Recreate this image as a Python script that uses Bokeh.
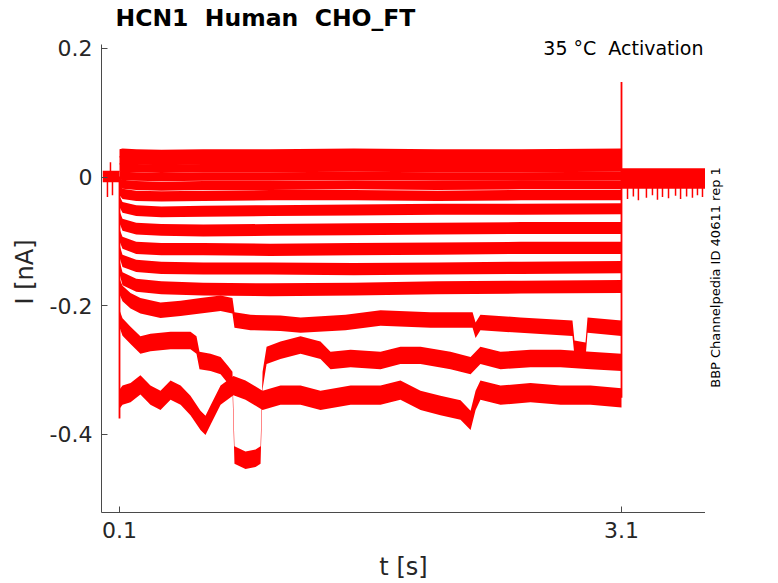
import math
from bokeh.plotting import figure
from bokeh.layouts import row
from bokeh.models import Range1d, FixedTicker, Label
from bokeh.embed import file_html
from bokeh.resources import INLINE

# ---------------- axis ticks ----------------
x_ticks = [0.1, 3.1]
x_tick_labels = ["0.1", "3.1"]
y_ticks = [-0.4, -0.2, 0, 0.2]
y_tick_labels = ["-0.4", "-0.2", "0", "0.2"]
x_axis_bounds = (-0.0076, 3.602)
y_axis_bounds = (-0.5213, 0.2062)

title_text = "HCN1 \u00a0Human \u00a0CHO_FT"
condition_text = "35 °C \u00a0Activation"
source_text = "BBP Channelpedia ID 40611 rep 1"

# ---------------- protocol times (s) ----------------
t_start = 0.0
step_on = 0.1
step_off = 3.1
t_end = 3.6

# holding / tail current (nA)
hold_level = 0.001
hold_noise = 0.009
tail_level = -0.002
tail_noise = 0.016
hold_spike_t = [0.028, 0.046, 0.058]
hold_spike_i = [-0.031, 0.023, -0.028]
tail_spike_t = [3.136, 3.171, 3.201, 3.249, 3.285, 3.315, 3.345, 3.381, 3.423, 3.453, 3.489, 3.524, 3.554, 3.584]
tail_spike_i = [-0.034, -0.030, -0.036, -0.032, -0.028, -0.035, -0.031, -0.033, -0.029, -0.034, -0.030, -0.032, -0.028, -0.031]
onset_spike_i = -0.375
offset_spike_i = 0.148

# ---------------- step traces (nA) ----------------
grid_t = [0.1, 0.118, 0.2, 0.35, 0.6, 1.0, 1.5, 2.0, 2.5, 3.1]
trace_n_i = [0.037, 0.038, 0.037, 0.036, 0.037, 0.037, 0.038, 0.037, 0.037, 0.038]
trace_m_i = [0.026, 0.027, 0.026, 0.025, 0.026, 0.026, 0.026, 0.027, 0.026, 0.026]
trace_l_i = [0.015, 0.014, 0.014, 0.013, 0.014, 0.014, 0.015, 0.014, 0.014, 0.015]
trace_k_i = [0.003, 0.002, 0.001, 0.000, 0.001, 0.001, 0.002, 0.001, 0.001, 0.002]
trace_j_i = [-0.008, -0.011, -0.013, -0.014, -0.013, -0.013, -0.012, -0.013, -0.012, -0.012]
trace_i_i = [-0.020, -0.026, -0.029, -0.030, -0.029, -0.028, -0.028, -0.029, -0.028, -0.028]
trace_h_i = [-0.038, -0.047, -0.052, -0.054, -0.053, -0.052, -0.051, -0.050, -0.050, -0.049]
trace_g_i = [-0.062, -0.074, -0.080, -0.082, -0.083, -0.082, -0.081, -0.080, -0.079, -0.079]
trace_f_i = [-0.090, -0.102, -0.110, -0.112, -0.112, -0.113, -0.112, -0.111, -0.110, -0.110]
trace_e_i = [-0.115, -0.130, -0.138, -0.141, -0.142, -0.142, -0.143, -0.142, -0.141, -0.140]
trace_d_i = [-0.140, -0.158, -0.168, -0.172, -0.174, -0.175, -0.174, -0.172, -0.171, -0.170]

trace_a_t = [0.1, 0.118, 0.166, 0.225, 0.345, 0.465, 0.584, 0.704, 0.775, 0.787, 0.883, 1.062, 1.182,
             1.451, 1.660, 1.959, 2.210, 2.228, 2.257, 2.496, 2.807, 2.819, 2.885, 2.897, 3.1]
trace_a_i = [-0.170, -0.181, -0.192, -0.200, -0.207, -0.204, -0.200, -0.196, -0.200, -0.222, -0.226, -0.227, -0.230,
             -0.226, -0.219, -0.222, -0.222, -0.238, -0.226, -0.230, -0.235, -0.266, -0.269, -0.230, -0.235]

trace_b_t = [0.1, 0.118, 0.166, 0.225, 0.285, 0.405, 0.524, 0.560, 0.578, 0.644, 0.704, 0.751, 0.775, 0.787,
             0.853, 0.913, 0.943, 0.955, 0.979, 1.062, 1.182, 1.301, 1.361, 1.481, 1.660, 1.779, 1.899,
             2.078, 2.198, 2.257, 2.377, 2.556, 2.736, 2.915, 3.1]
trace_b_i = [-0.220, -0.233, -0.246, -0.261, -0.257, -0.254, -0.254, -0.261, -0.285, -0.288, -0.293, -0.308, -0.316, -0.432,
             -0.440, -0.437, -0.432, -0.316, -0.277, -0.269, -0.261, -0.269, -0.285, -0.282, -0.285, -0.277, -0.277,
             -0.285, -0.293, -0.277, -0.285, -0.282, -0.282, -0.285, -0.288]

trace_c_t = [0.1, 0.118, 0.166, 0.225, 0.285, 0.345, 0.405, 0.465, 0.524, 0.584, 0.614, 0.644, 0.704, 0.781,
             0.853, 0.955, 1.062, 1.182, 1.301, 1.481, 1.660, 1.779, 1.899, 2.018, 2.138, 2.198, 2.228,
             2.257, 2.377, 2.556, 2.736, 2.915, 3.1]
trace_c_i = [-0.345, -0.339, -0.335, -0.323, -0.339, -0.347, -0.331, -0.339, -0.355, -0.378, -0.386, -0.370, -0.339, -0.324,
             -0.331, -0.347, -0.339, -0.339, -0.347, -0.339, -0.339, -0.331, -0.347, -0.355, -0.362, -0.378, -0.347,
             -0.331, -0.339, -0.335, -0.339, -0.339, -0.343]

# noise half-width (nA) of each trace band
traces = [
    (grid_t, trace_n_i, 0.0065),
    (grid_t, trace_m_i, 0.0065),
    (grid_t, trace_l_i, 0.0065),
    (grid_t, trace_k_i, 0.0065),
    (grid_t, trace_j_i, 0.0070),
    (grid_t, trace_i_i, 0.0080),
    (grid_t, trace_h_i, 0.0085),
    (grid_t, trace_g_i, 0.0092),
    (grid_t, trace_f_i, 0.0095),
    (grid_t, trace_e_i, 0.0095),
    (grid_t, trace_d_i, 0.0100),
    (trace_a_t, trace_a_i, 0.0120),
    (trace_b_t, trace_b_i, 0.0135),
    (trace_c_t, trace_c_i, 0.0150),
]

RED = "#ff0000"
TXT = "#262626"
AX = "#4a4a4a"
Y_RANGE = (-0.5213, 0.2264)

p = figure(frame_width=604, frame_height=481,
           x_range=Range1d(-0.0076, 3.602), y_range=Range1d(*Y_RANGE),
           output_backend="svg", toolbar_location=None,
           min_border_left=101, min_border_right=0, min_border_top=31, min_border_bottom=62)
p.outline_line_color = None
p.background_fill_color = "white"
p.border_fill_color = "white"
p.xgrid.visible = False
p.ygrid.visible = False

p.title.text = title_text
p.title.align = "left"
p.title.offset = 14
p.title.standoff = 0
p.title.text_font = "DejaVu Sans"
p.title.text_font_size = "23.5px"
p.title.text_font_style = "bold"
p.title.text_color = "black"

# holding and tail bands
p.varea(x=[t_start, step_on], y1=[hold_level - hold_noise] * 2, y2=[hold_level + hold_noise] * 2,
        fill_color=RED)
p.varea(x=[step_off, t_end], y1=[tail_level - tail_noise] * 2, y2=[tail_level + tail_noise] * 2,
        fill_color=RED)
p.segment(x0=hold_spike_t, y0=[hold_level] * len(hold_spike_t), x1=hold_spike_t, y1=hold_spike_i,
          line_color=RED, line_width=1.5)
p.segment(x0=tail_spike_t, y0=[tail_level] * len(tail_spike_t), x1=tail_spike_t, y1=tail_spike_i,
          line_color=RED, line_width=1.5)

# step traces
for tt, ii, hw in traces:
    p.varea(x=tt, y1=[v - hw for v in ii], y2=[v + hw for v in ii], fill_color=RED)

# on / off transitions
p.segment(x0=[step_on], y0=[hold_level], x1=[step_on], y1=[onset_spike_i], line_color=RED, line_width=1.8)
ends = [ii[-1] for _, ii, _ in traces]
p.segment(x0=[step_off], y0=[min(ends)], x1=[step_off], y1=[offset_spike_i], line_color=RED, line_width=1.8)

# axes
for ax in (p.xaxis[0], p.yaxis[0]):
    ax.axis_line_color = AX
    ax.axis_line_width = 1
    ax.major_tick_line_color = AX
    ax.major_tick_in = 6
    ax.major_tick_out = 0
    ax.minor_tick_line_color = None
    ax.major_label_text_font = "DejaVu Sans"
    ax.major_label_text_font_size = "22px"
    ax.major_label_text_color = TXT
    ax.axis_label_text_font = "DejaVu Sans"
    ax.axis_label_text_font_size = "24px"
    ax.axis_label_text_font_style = "normal"
    ax.axis_label_text_color = TXT

p.xaxis.ticker = FixedTicker(ticks=x_ticks)
p.xaxis.major_label_overrides = dict(zip(x_ticks, x_tick_labels))
p.yaxis.ticker = FixedTicker(ticks=y_ticks)
p.yaxis.major_label_overrides = dict(zip(y_ticks, y_tick_labels))
p.xaxis.bounds = x_axis_bounds
p.yaxis.bounds = y_axis_bounds
p.xaxis.axis_label = "t [s]"
p.yaxis.axis_label = "I [nA]"
p.xaxis.major_label_standoff = 9
p.yaxis.major_label_standoff = 9
p.xaxis.axis_label_standoff = 12
p.yaxis.axis_label_standoff = 8

p.add_layout(Label(x=3.590, y=0.2005, text=condition_text, text_font="DejaVu Sans",
                   text_font_size="19px", text_color="black",
                   text_align="right", text_baseline="alphabetic"))

# narrow companion panel carrying the vertical source note
side = figure(frame_width=24, frame_height=481,
              x_range=Range1d(0, 1), y_range=Range1d(*Y_RANGE),
              output_backend="svg", toolbar_location=None,
              x_axis_location=None, y_axis_location=None,
              min_border_left=0, min_border_right=0, min_border_top=31, min_border_bottom=62)
side.outline_line_color = None
side.xgrid.visible = False
side.ygrid.visible = False
side.background_fill_color = "white"
side.border_fill_color = "white"
side.add_layout(Label(x=0.42, y=-0.156, text=source_text, text_font="DejaVu Sans",
                      text_font_size="13px", text_color="black", angle=math.pi / 2,
                      text_align="center", text_baseline="middle"))

layout = row(p, side)
open("out.html", "w").write(file_html(layout, INLINE))
